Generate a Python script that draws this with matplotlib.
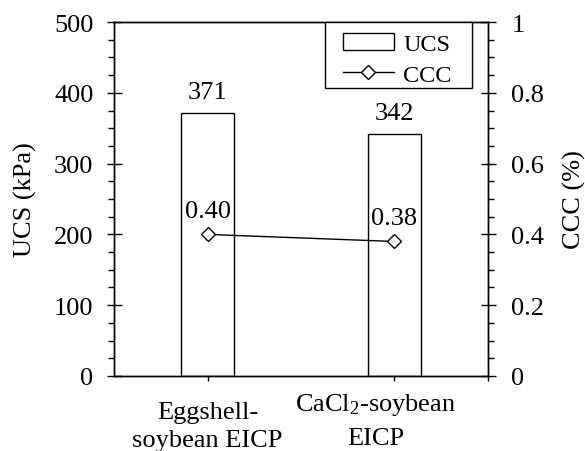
import numpy as np
import matplotlib
matplotlib.use("Agg")
import matplotlib.pyplot as plt
from matplotlib.patches import Rectangle
from matplotlib.ticker import MultipleLocator
from matplotlib.transforms import ScaledTranslation, blended_transform_factory

plt.rcParams["font.family"] = ["Liberation Serif", "DejaVu Serif"]
plt.rcParams["mathtext.fontset"] = "custom"
plt.rcParams["mathtext.rm"] = "Liberation Serif"
plt.rcParams["mathtext.it"] = "Liberation Serif:italic"

# data
categories = ["Eggshell-\nsoybean EICP", "CaCl$_2$-soybean\nEICP"]
ucs = [371, 342]          # kPa
ccc = [0.40, 0.38]        # %
ucs_labels = ["371", "342"]
ccc_labels = ["0.40", "0.38"]

FS = 19
fig = plt.figure(figsize=(5.85, 4.52), dpi=100)
ax = fig.add_axes([0.195, 0.166, 0.639, 0.783])
ax2 = ax.twinx()

x = np.arange(len(categories)) + 0.5
bars = ax.bar(x, ucs, width=0.28, color="white", edgecolor="black",
              linewidth=1.0, label="UCS", zorder=2)
line, = ax2.plot(x, ccc, color="black", linewidth=1.0, marker="D",
                 markersize=7, markerfacecolor="white", markeredgecolor="black",
                 markeredgewidth=1.0, label="CCC", zorder=3)

# value labels
for xi, v, s in zip(x, ucs, ucs_labels):
    ax.annotate(s, (xi, v), xytext=(0, 11), textcoords="offset points",
                ha="center", va="baseline", fontsize=FS)
for xi, v, s in zip(x, ccc, ccc_labels):
    ax2.annotate(s, (xi, v), xytext=(0, 12.5), textcoords="offset points",
                 ha="center", va="baseline", fontsize=FS)

ax.set_xlim(0, 2)
ax.set_ylim(0, 500)
ax2.set_ylim(0, 1)

ax.yaxis.set_major_locator(MultipleLocator(100))
ax.yaxis.set_minor_locator(MultipleLocator(25))
ax2.set_yticks([0, 0.2, 0.4, 0.6, 0.8, 1.0])
ax2.set_yticklabels(["0", "0.2", "0.4", "0.6", "0.8", "1"])
ax2.yaxis.set_minor_locator(MultipleLocator(0.05))

ax.set_xticks([0.5, 1.5, 2.0])
ax.set_xticklabels(["", "", ""])
ax.tick_params(axis="x", direction="out", length=3.5, width=1.0)

ax.tick_params(axis="y", which="major", direction="inout", length=10.8,
               width=1.0, labelsize=FS, pad=9.5)
ax.tick_params(axis="y", which="minor", direction="out", length=4.5, width=1.0)
ax2.tick_params(axis="y", which="major", direction="inout", length=10.8,
                width=1.0, labelsize=FS, pad=11.5)
ax2.tick_params(axis="y", which="minor", direction="out", length=4.5, width=1.0)

for a in (ax, ax2):
    for sp in a.spines.values():
        sp.set_linewidth(1.0)

# category labels below the axis
trans = blended_transform_factory(ax.transData, ax.transAxes)
placement = [(0, -25, 1.35), (-19, -15, 1.6)]
for xi, lab, (dx, dy, ls) in zip(x, categories, placement):
    t = trans + ScaledTranslation(dx / 100, dy / 100, fig.dpi_scale_trans)
    ax.text(xi, 0, lab, transform=t, ha="center", va="top",
            fontsize=FS, linespacing=ls, multialignment="center")

ax.set_ylabel("UCS (kPa)", fontsize=FS, labelpad=12)
ax2.set_ylabel("CCC (%)", fontsize=FS, labelpad=13)

# legend: box drawn separately, entries placed inside
box = Rectangle((0.564, 0.8136), 0.393, 0.1864, transform=ax.transAxes,
                facecolor="white", edgecolor="black", linewidth=1.0,
                zorder=5, clip_on=False)
ax2.add_patch(box)
leg = ax2.legend([bars, line], ["UCS", "CCC"], loc="upper left",
                 bbox_to_anchor=(0.612, 0.968), borderaxespad=0, borderpad=0,
                 fontsize=17.5, frameon=False, handlelength=2.1,
                 handletextpad=0.38, labelspacing=0.35)
leg.set_zorder(6)

fig.savefig("out.png", dpi=100)
